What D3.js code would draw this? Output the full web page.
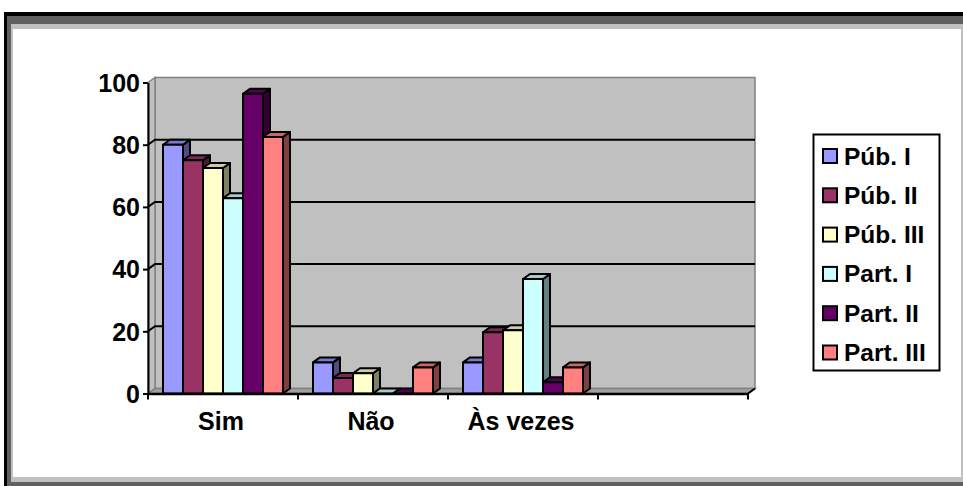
<!DOCTYPE html>
<html>
<head>
<meta charset="utf-8">
<script src="https://cdn.jsdelivr.net/npm/d3@7"></script>
<style>
  html, body { margin: 0; padding: 0; background: #fff; overflow: hidden; }
  text { font-family: "Liberation Sans", Arial, sans-serif; font-weight: bold; fill: #000; }
</style>
</head>
<body>
<svg id="chart" width="963" height="486"></svg>
<script>
// Categories (the fourth slot is an empty category)
const categories = ["Sim", "Não", "Às vezes", ""];
const seriesNames = ["Púb. I", "Púb. II", "Púb. III", "Part. I", "Part. II", "Part. III"];

// Percentages per series, in category order
const pubI    = [80, 10, 10];
const pubII   = [75, 5, 19.7];
const pubIII  = [72.5, 6.5, 20.3];
const partI   = [62.8, 0, 36.8];
const partII  = [96.4, 0, 3.6];
const partIII = [82.5, 8.4, 8.4];

const seriesColors = ["#9999ff", "#993366", "#ffffcc", "#ccffff", "#660066", "#ff8080"];
const yTicks = [0, 20, 40, 60, 80, 100];

const seriesValues = [pubI, pubII, pubIII, partI, partII, partIII];

const svg = d3.select("#chart");

// ---- chart frame (thick bevelled border, clipped at right/bottom) ----
svg.append("rect").attr("x", 4).attr("y", 12).attr("width", 980).attr("height", 500).attr("fill", "#000");
svg.append("rect").attr("x", 7).attr("y", 16).attr("width", 980).attr("height", 500).attr("fill", "#606060");
svg.append("rect").attr("x", 11).attr("y", 24).attr("width", 955).attr("height", 458).attr("fill", "#c0c0c0");
svg.append("rect").attr("x", 13).attr("y", 29).attr("width", 948).attr("height", 448).attr("fill", "#fff");

// ---- scales ----
const x = d3.scaleBand().domain(categories).range([148, 748]).padding(0);
const inner = d3.scaleBand().domain(seriesNames).range([0, x.bandwidth()]).paddingInner(0).paddingOuter(0.75);
const y = d3.scaleLinear().domain([0, 100]).range([393.5, 82.5]);

// 3-D depth offset of walls and columns
const dx = 7, dy = -5;
const [x0, x1] = x.range();
const yb = y(0), yt = y(100);

const shade = (c, k) => { const r = d3.rgb(c); return d3.rgb(r.r * k, r.g * k, r.b * k).formatHex(); };
const poly = pts => pts.map(p => p.join(",")).join(" ");

// ---- walls and floor ----
const walls = svg.append("g");
walls.append("polygon") // back wall
  .attr("points", poly([[x0 + dx, yt + dy], [x1 + dx, yt + dy], [x1 + dx, yb + dy], [x0 + dx, yb + dy]]))
  .attr("fill", "#c0c0c0").attr("stroke", "#808080").attr("stroke-width", 1.5);
walls.append("polygon") // side wall
  .attr("points", poly([[x0, yt], [x0 + dx, yt + dy], [x0 + dx, yb + dy], [x0, yb]]))
  .attr("fill", "#c0c0c0").attr("stroke", "#808080").attr("stroke-width", 1.5);
walls.append("polygon") // floor
  .attr("points", poly([[x0, yb], [x0 + dx, yb + dy], [x1 + dx, yb + dy], [x1, yb]]))
  .attr("fill", "#a0a0a0").attr("stroke", "#808080").attr("stroke-width", 1.5);

// gridlines on back and side walls
const grid = svg.append("g").attr("stroke", "#000").attr("stroke-width", 2).attr("fill", "none");
yTicks.filter(t => t > 0 && t < 100).forEach(t => {
  grid.append("polyline")
    .attr("points", poly([[x0, y(t)], [x0 + dx, y(t) + dy], [x1 + dx, y(t) + dy]]));
});

// ---- columns ----
const bars = svg.append("g").attr("stroke", "#000").attr("stroke-width", 2).attr("stroke-linejoin", "round");
categories.forEach((cat, ci) => {
  seriesNames.forEach((name, si) => {
    const v = seriesValues[si][ci];
    if (v === undefined) return;
    const c = seriesColors[si];
    const bx = x(cat) + inner(name), w = inner.bandwidth();
    const top = y(v);
    const g = bars.append("g");
    g.append("polygon") // side face
      .attr("points", poly([[bx + w, top], [bx + w + dx, top + dy], [bx + w + dx, yb + dy], [bx + w, yb]]))
      .attr("fill", shade(c, 0.5));
    g.append("polygon") // top face
      .attr("points", poly([[bx, top], [bx + dx, top + dy], [bx + w + dx, top + dy], [bx + w, top]]))
      .attr("fill", shade(c, 0.8));
    g.append("rect") // front face
      .attr("x", bx).attr("y", top).attr("width", w).attr("height", Math.max(0, yb - top))
      .attr("fill", c);
  });
});

// ---- axes ----
const yAxis = svg.append("g").attr("transform", `translate(${x0},0)`)
  .call(d3.axisLeft(y).tickValues(yTicks).tickSize(5).tickSizeOuter(0).tickPadding(3));
yAxis.select(".domain").attr("stroke", "#000").attr("stroke-width", 2);
yAxis.selectAll(".tick line").attr("stroke", "#000").attr("stroke-width", 2);
yAxis.selectAll("text").style("font-size", "25px").attr("dy", "0.35em");

const xAxis = svg.append("g").attr("transform", `translate(0,${yb})`)
  .call(d3.axisBottom(x).tickSize(0).tickSizeOuter(0));
xAxis.select(".domain").attr("stroke", "#000").attr("stroke-width", 2.5);
xAxis.selectAll("text").style("font-size", "25px").attr("y", 36.5).attr("dy", 0).attr("dx", -2);
// tick marks on category boundaries
const bounds = categories.map(c => x(c)).concat([x1]);
xAxis.selectAll(".bound").data(bounds).join("line").attr("class", "bound")
  .attr("x1", d => d).attr("x2", d => d).attr("y1", 0).attr("y2", 6)
  .attr("stroke", "#000").attr("stroke-width", 2);
// floor front edge rising to the back wall corner
svg.append("line").attr("x1", x1).attr("y1", yb).attr("x2", x1 + dx).attr("y2", yb + dy)
  .attr("stroke", "#000").attr("stroke-width", 2);

// ---- legend ----
const legend = svg.append("g");
legend.append("rect").attr("x", 813.5).attr("y", 134.5).attr("width", 126).attr("height", 236)
  .attr("fill", "#fff").attr("stroke", "#000").attr("stroke-width", 2);
const rowY = d3.scalePoint().domain(seriesNames).range([156, 352.5]);
seriesNames.forEach((name, i) => {
  const cy = rowY(name);
  legend.append("rect").attr("x", 823).attr("y", cy - 7).attr("width", 14).attr("height", 14)
    .attr("fill", seriesColors[i]).attr("stroke", "#000").attr("stroke-width", 2);
  legend.append("text").attr("x", 844).attr("y", cy + 8.5).style("font-size", "24.5px").text(name);
});
</script>
</body>
</html>
